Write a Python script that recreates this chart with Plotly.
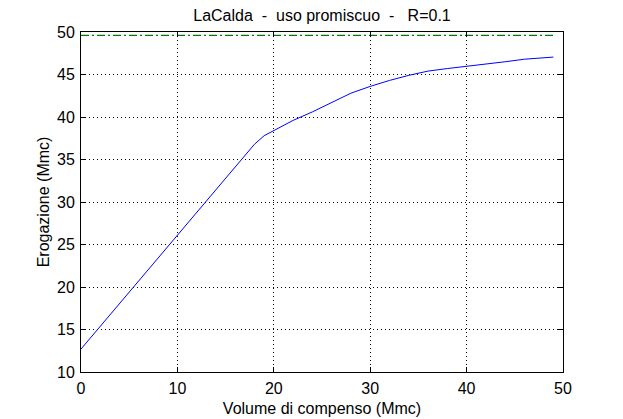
import plotly.graph_objects as go

volume = [0, 5, 10, 15, 17, 18, 19, 20, 22, 24, 26, 28, 30, 32, 34, 36, 38, 40, 42, 44, 46, 48, 49]
erogazione = [12.7, 19.4, 26.1, 32.8, 35.5, 36.8, 37.8, 38.4, 39.6, 40.6, 41.7, 42.8, 43.6, 44.3,
              44.9, 45.4, 45.7, 45.95, 46.25, 46.5, 46.8, 47.0, 47.05]
limite_x = [0, 49]
limite_y = [49.6, 49.6]

x_ticks = [0, 10, 20, 30, 40, 50]
y_ticks = [10, 15, 20, 25, 30, 35, 40, 45, 50]

font_family = "Liberation Sans, Arial, sans-serif"
fs = 16

fig = go.Figure()
fig.add_trace(go.Scatter(x=volume, y=erogazione, mode="lines",
                         line=dict(color="#0000ff", width=1), showlegend=False))
fig.add_trace(go.Scatter(x=limite_x, y=limite_y, mode="lines",
                         line=dict(color="#007a00", width=1.2, dash="8px,3px,2px,3px"), showlegend=False))

axis_common = dict(
    showline=True, linecolor="black", linewidth=1, mirror="ticks",
    ticks="inside", ticklen=5, tickcolor="black",
    showgrid=True, gridcolor="black", griddash="1px,3px", gridwidth=1,
    zeroline=False, automargin=False,
    tickfont=dict(size=fs, color="black", family=font_family),
)

fig.update_xaxes(range=[0, 50], tickvals=x_ticks, ticklabelstandoff=2, **axis_common,
                 title=dict(text="Volume di compenso (Mmc)", standoff=6,
                            font=dict(size=fs, color="black", family=font_family)))
fig.update_yaxes(range=[10, 50], tickvals=y_ticks, ticklabelstandoff=2, **axis_common,
                 title=dict(text="Erogazione (Mmc)", standoff=3,
                            font=dict(size=fs, color="black", family=font_family)))

fig.update_layout(
    width=615, height=411,
    margin=dict(l=73, r=60, t=24, b=47, autoexpand=False),
    paper_bgcolor="white", plot_bgcolor="white",
    font=dict(family=font_family, size=fs, color="black"),
    title=dict(text="LaCalda\u00a0\u00a0-\u00a0\u00a0uso promiscuo\u00a0\u00a0-\u00a0\u00a0\u00a0R=0.1",
               x=0.5, xanchor="center", xref="paper", yref="paper", y=1.0,
               yanchor="bottom", pad=dict(b=11),
               font=dict(size=fs, color="black", family=font_family)),
)

fig.write_html("out.html")
